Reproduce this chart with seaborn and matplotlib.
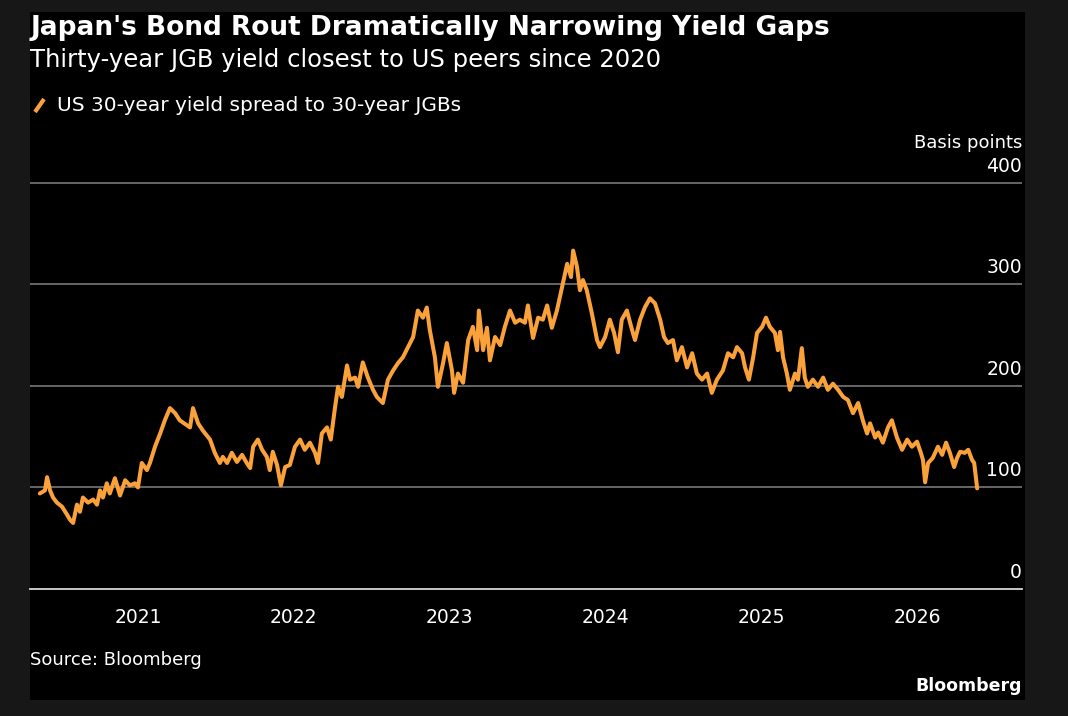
import pandas as pd
import matplotlib.pyplot as plt
import seaborn as sns
from matplotlib.lines import Line2D
from matplotlib.patches import Rectangle
from matplotlib.transforms import blended_transform_factory

# US 30y minus JGB 30y spread, basis points
dates_2020 = ["2020-05-16", "2020-05-28", "2020-06-02", "2020-06-09", "2020-06-16", "2020-06-25",
              "2020-07-07", "2020-07-19", "2020-07-26", "2020-08-02", "2020-08-11", "2020-08-18",
              "2020-08-25", "2020-09-06", "2020-09-18", "2020-09-27", "2020-10-04", "2020-10-11",
              "2020-10-20", "2020-10-27", "2020-11-08", "2020-11-20", "2020-12-02", "2020-12-13",
              "2020-12-25"]
spread_2020 = [94, 97, 110, 97, 90, 85, 81, 73, 68, 65, 83, 76, 90, 85, 88, 83, 97, 90, 104, 94,
               109, 92, 107, 102, 104]

dates_2021 = ["2021-01-01", "2021-01-10", "2021-01-22", "2021-01-29", "2021-02-10", "2021-02-22",
              "2021-03-05", "2021-03-17", "2021-03-29", "2021-04-09", "2021-04-26", "2021-05-03",
              "2021-05-10", "2021-05-22", "2021-06-02", "2021-06-19", "2021-06-30", "2021-07-12",
              "2021-07-19", "2021-07-29", "2021-08-09", "2021-08-21", "2021-09-02", "2021-09-13",
              "2021-09-21", "2021-09-28", "2021-10-09", "2021-10-19", "2021-10-30", "2021-11-06",
              "2021-11-13", "2021-11-23", "2021-12-02", "2021-12-12", "2021-12-23"]
spread_2021 = [100, 124, 117, 124, 140, 153, 166, 178, 173, 166, 161, 159, 178, 163, 156, 147,
               134, 124, 130, 124, 134, 125, 132, 124, 119, 140, 147, 137, 130, 117, 135, 122,
               102, 120, 122]

dates_2022 = ["2022-01-04", "2022-01-16", "2022-01-27", "2022-02-08", "2022-02-20", "2022-02-27",
              "2022-03-08", "2022-03-20", "2022-03-29", "2022-04-08", "2022-04-15", "2022-04-24",
              "2022-05-06", "2022-05-13", "2022-05-25", "2022-06-01", "2022-06-12", "2022-06-24",
              "2022-07-06", "2022-07-15", "2022-07-29", "2022-08-10", "2022-08-22", "2022-09-02",
              "2022-09-14", "2022-09-26", "2022-10-08", "2022-10-19", "2022-10-31", "2022-11-09",
              "2022-11-16", "2022-11-28", "2022-12-05", "2022-12-17", "2022-12-26"]
spread_2022 = [140, 147, 137, 144, 134, 124, 153, 159, 147, 179, 199, 189, 220, 206, 208, 199,
               223, 208, 196, 189, 183, 206, 215, 222, 228, 238, 248, 274, 267, 277, 255, 228,
               199, 222, 242]

dates_2023 = ["2023-01-07", "2023-01-12", "2023-01-21", "2023-02-02", "2023-02-14", "2023-02-25",
              "2023-03-07", "2023-03-11", "2023-03-21", "2023-03-30", "2023-04-06", "2023-04-18",
              "2023-04-30", "2023-05-11", "2023-05-23", "2023-06-04", "2023-06-15", "2023-06-27",
              "2023-07-04", "2023-07-16", "2023-07-28", "2023-08-08", "2023-08-18", "2023-08-29",
              "2023-09-10", "2023-09-22", "2023-10-04", "2023-10-13", "2023-10-18", "2023-10-27",
              "2023-11-03", "2023-11-10", "2023-11-19", "2023-12-01", "2023-12-13", "2023-12-20"]
spread_2023 = [215, 193, 212, 203, 245, 258, 235, 274, 235, 257, 225, 248, 240, 258, 274, 262,
               265, 262, 279, 247, 267, 265, 279, 257, 274, 297, 320, 307, 333, 317, 294, 304,
               294, 271, 245, 238]

dates_2024 = ["2024-01-01", "2024-01-12", "2024-01-22", "2024-01-31", "2024-02-09", "2024-02-21",
              "2024-03-04", "2024-03-11", "2024-03-23", "2024-04-03", "2024-04-15", "2024-04-27",
              "2024-05-09", "2024-05-18", "2024-05-27", "2024-06-08", "2024-06-17", "2024-06-29",
              "2024-07-11", "2024-07-23", "2024-08-03", "2024-08-15", "2024-08-27", "2024-09-07",
              "2024-09-19", "2024-10-03", "2024-10-15", "2024-10-27", "2024-11-05", "2024-11-17",
              "2024-11-24", "2024-12-03", "2024-12-13", "2024-12-22"]
spread_2024 = [248, 265, 252, 233, 265, 274, 255, 245, 265, 277, 286, 281, 265, 248, 242, 245,
               225, 238, 218, 232, 212, 206, 212, 193, 206, 215, 232, 228, 238, 232, 218, 206,
               228, 252]

dates_2025 = ["2025-01-03", "2025-01-12", "2025-01-21", "2025-02-02", "2025-02-09", "2025-02-14",
              "2025-02-21", "2025-03-02", "2025-03-09", "2025-03-21", "2025-03-28", "2025-04-06",
              "2025-04-13", "2025-04-20", "2025-05-02", "2025-05-14", "2025-05-26", "2025-06-06",
              "2025-06-18", "2025-06-30", "2025-07-12", "2025-07-23", "2025-08-04", "2025-08-16",
              "2025-08-27", "2025-09-06", "2025-09-13", "2025-09-25", "2025-10-02", "2025-10-13",
              "2025-10-25", "2025-11-03", "2025-11-15", "2025-11-27", "2025-12-09", "2025-12-20"]
spread_2025 = [258, 267, 258, 252, 235, 253, 228, 212, 196, 212, 206, 237, 208, 199, 206, 199,
               208, 196, 202, 196, 189, 186, 173, 183, 166, 153, 163, 149, 154, 144, 159, 166,
               149, 137, 147, 140]

dates_2026 = ["2026-01-01", "2026-01-10", "2026-01-15", "2026-01-20", "2026-01-27", "2026-02-07",
              "2026-02-19", "2026-03-01", "2026-03-10", "2026-03-19", "2026-03-29", "2026-04-05",
              "2026-04-12", "2026-04-23", "2026-05-01", "2026-05-10", "2026-05-15", "2026-05-22"]
spread_2026 = [145, 134, 127, 105, 124, 129, 140, 132, 144, 134, 120, 129, 135, 134, 137, 127,
               124, 99]

y_ticks = [0, 100, 200, 300, 400]
year_labels = ["2021", "2022", "2023", "2024", "2025", "2026"]

df = pd.DataFrame({
    "date": pd.to_datetime(dates_2020 + dates_2021 + dates_2022 + dates_2023 + dates_2024
                           + dates_2025 + dates_2026),
    "spread": spread_2020 + spread_2021 + spread_2022 + spread_2023 + spread_2024
              + spread_2025 + spread_2026,
})

ORANGE = "#fba13a"
sns.set_theme(style="dark")
plt.rcParams["font.family"] = ["DejaVu Sans"]

fig = plt.figure(figsize=(10.68, 7.16), dpi=100, facecolor="#171717")
# black card behind everything
fig.add_artist(Rectangle((0.0281, 0.0223), 0.9316, 0.9609, transform=fig.transFigure,
                         facecolor="black", edgecolor="none", zorder=0))

ax = fig.add_axes([0.0281, 0.1774, 0.9288, 0.6131])
ax.set_facecolor("black")
ax.patch.set_alpha(0)

sns.lineplot(data=df, x="date", y="spread", color=ORANGE, lw=2.9, ax=ax, zorder=3)

ax.set_xlim(pd.Timestamp("2020-04-23"), pd.Timestamp("2026-09-04"))
ax.set_ylim(0, 432)

# gridlines + labels sitting on the right, above each line
ax.set_yticks(y_ticks)
ax.set_yticklabels([])
ax.tick_params(axis="y", length=0)
ax.grid(False)
for v in y_ticks[1:]:
    ax.axhline(v, color="#6e6e6e", lw=1.3, zorder=1)
trans = blended_transform_factory(ax.transAxes, ax.transData)
for v in y_ticks:
    ax.annotate(str(v), (1.0, v), xycoords=trans, xytext=(0, 5), textcoords="offset points",
                ha="right", va="bottom", color="white", fontsize=13.5)
ax.annotate("Basis points", (1.0, 400), xycoords=trans, xytext=(0, 22),
            textcoords="offset points", ha="right", va="bottom", color="white",
            fontsize=13)

# x axis: years at Jan 1, quarterly minor ticks
year_pos = pd.to_datetime([y + "-01-01" for y in year_labels])
ax.set_xticks(year_pos)
ax.set_xticklabels(year_labels, fontsize=13.5, color="white")
ax.set_xticks(pd.date_range("2020-07-01", "2026-04-01", freq="QS"), minor=True)
ax.tick_params(axis="x", which="major", length=8, width=1, color="#d0d0d0", pad=6)
ax.tick_params(axis="x", which="minor", length=4, width=1, color="#d0d0d0")
ax.set_xlabel("")
ax.set_ylabel("")

for s in ["top", "right", "left"]:
    ax.spines[s].set_visible(False)
ax.spines["bottom"].set_color("#d8d8d8")
ax.spines["bottom"].set_linewidth(1.3)

# headings
fig.text(0.0281, 0.961, "Japan's Bond Rout Dramatically Narrowing Yield Gaps", color="white",
         fontsize=19, fontweight="bold", va="center", ha="left")
fig.text(0.0281, 0.916, "Thirty-year JGB yield closest to US peers since 2020", color="white",
         fontsize=17.5, va="center", ha="left")
fig.add_artist(Line2D([0.0328, 0.0412], [0.8436, 0.8617], transform=fig.transFigure,
                      color=ORANGE, lw=3, solid_capstyle="butt"))
fig.text(0.0534, 0.853, "US 30-year yield spread to 30-year JGBs", color="white",
         fontsize=14.5, va="center", ha="left")
fig.text(0.0281, 0.078, "Source: Bloomberg", color="white", fontsize=13,
         va="center", ha="left")
fig.text(0.957, 0.042, "Bloomberg", color="white", fontsize=12.5, fontweight="bold",
         va="center", ha="right")

fig.savefig("out.png", dpi=100, facecolor=fig.get_facecolor())
